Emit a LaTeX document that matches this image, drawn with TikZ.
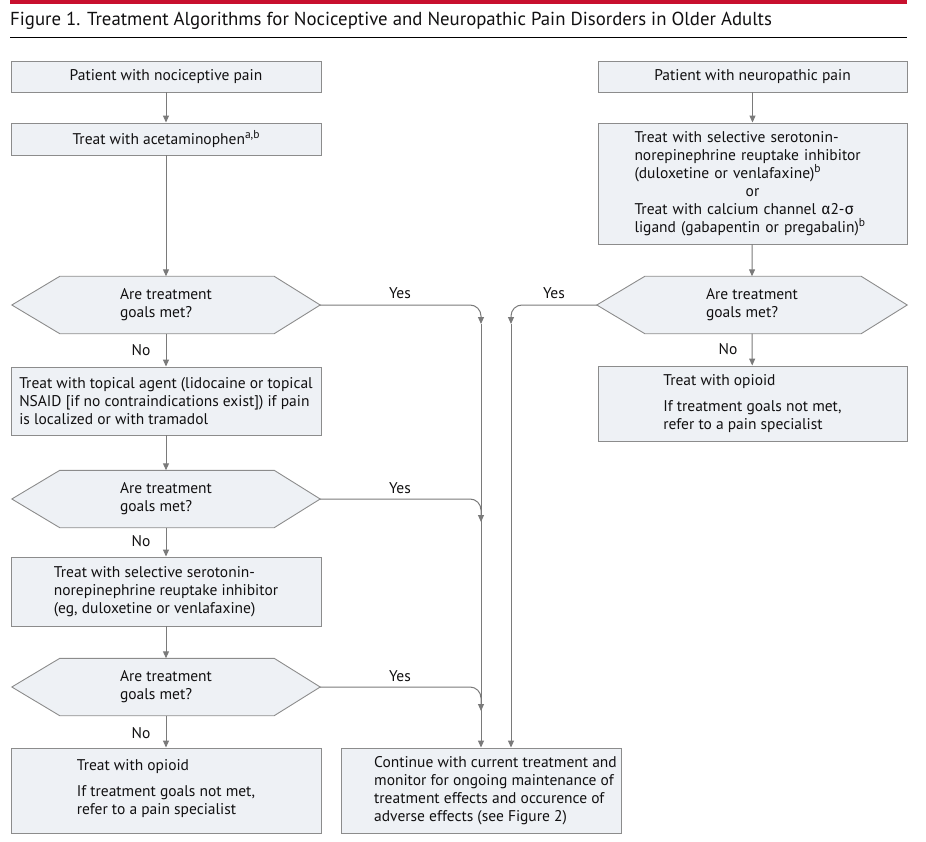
\documentclass[tikz,border=0pt]{standalone}
\usepackage{fontspec}
\setmainfont{PT Sans}
\newfontfamily\grk{Fira Sans}
\usetikzlibrary{arrows.meta,backgrounds}
\definecolor{boxfill}{HTML}{EEF1F5}
\definecolor{boxline}{HTML}{8C8C8C}
\definecolor{arrowc}{HTML}{7A7A7A}
\definecolor{jamared}{HTML}{C8102E}
\definecolor{txt}{HTML}{111011}
\newcommand\supr[1]{\raisebox{5.5pt}{\fontsize{11.5}{11.5}\selectfont #1}}
\begin{document}
\begin{tikzpicture}[x=1pt,y=-1pt,
  every node/.style={text=txt, font=\fontsize{15.5}{18}\selectfont},
  box/.style={draw=boxline, fill=boxfill, line width=0.9pt, inner sep=0pt, align=left},
  hexnode/.style={inner sep=0pt, align=left, minimum width=308pt, minimum height=57pt},
  hexa/.style={draw=boxline, fill=boxfill, line width=0.9pt},
  conn/.style={draw=arrowc, line width=1pt, -{Triangle[length=7pt,width=6pt]}},
  lbl/.style={inner sep=0pt}
]
\useasboundingbox (0,0) rectangle (926,842);

% header
\fill[jamared] (10,0) rectangle (907,4);
\node[lbl, anchor=base west, font=\fontsize{18.8}{22}\selectfont] (title) at (10,26)
  {Figure 1. Treatment Algorithms for Nociceptive and Neuropathic Pain Disorders in Older Adults};
\draw[black, line width=1pt] (10,38) -- (907,38);

% left column
\node[box, minimum width=310pt, minimum height=31pt] (b1) at (166,76.5) {Patient with nociceptive pain};
\node[box, minimum width=310pt, minimum height=32pt] (b2) at (166,139) {Treat with acetaminophen\supr{a,b}};
\node[hexnode] (d1) at (166,305) {Are treatment\\goals met?};
\node[box, minimum width=310pt, minimum height=68pt] (b3) at (166,401)
  {Treat with topical agent (lidocaine or topical\\NSAID [if no contraindications exist]) if pain\\is localized or with tramadol};
\node[hexnode] (d2) at (166,499) {Are treatment\\goals met?};
\node[box, minimum width=310pt, minimum height=69pt] (b4) at (166,591.5)
  {Treat with selective serotonin-\\norepinephrine reuptake inhibitor\\(eg, duloxetine or venlafaxine)};
\node[hexnode] (d3) at (166,687) {Are treatment\\goals met?};
\node[box, minimum width=310pt, minimum height=85pt] (b5) at (166,790.5)
  {Treat with opioid\\[8pt]If treatment goals not met,\\refer to a pain specialist\\[-12pt]};

% center box
\node[box, minimum width=280pt, minimum height=85pt] (b6) at (481,790.5) {};
\node[lbl, anchor=west, align=left] (b6t) at (374,791)
  {Continue with current treatment and\\monitor for ongoing maintenance of\\treatment effects and occurence of\\adverse effects (see Figure 2)};

% right column
\node[box, minimum width=309pt, minimum height=31pt] (r1) at (752.5,76.5) {Patient with neuropathic pain};
\node[box, minimum width=309pt, minimum height=121pt, text width=236pt, inner xsep=36.5pt] (r2) at (752.5,183.5)
  {Treat with selective serotonin-\\norepinephrine reuptake inhibitor\\(duloxetine or venlafaxine)\supr{b}\\\makebox[\linewidth]{or}\\Treat with calcium channel {\grk α}2-{\grk σ}\\ligand (gabapentin or pregabalin)\supr{b}};
\node[hexnode, minimum width=310pt] (dr) at (752,305) {Are treatment\\goals met?};
\node[box, minimum width=309pt, minimum height=75pt] (r3) at (752.5,403.5)
  {Treat with opioid\\[8pt]If treatment goals not met,\\refer to a pain specialist};

% hexagons
\begin{scope}[on background layer]
  \foreach \d in {d1,d2,d3,dr}{
    \filldraw[hexa] (\d.west) -- ([xshift=48pt]\d.north west) -- ([xshift=-46pt]\d.north east)
      -- (\d.east) -- ([xshift=-46pt]\d.south east) -- ([xshift=48pt]\d.south west) -- cycle;
  }
\end{scope}

% trunk coordinates
\coordinate (tl1) at (481,324);
\coordinate (tl2) at (481,522);
\coordinate (tl3) at (481,711);
\coordinate (tr1) at (511,324);

% connectors left
\draw[conn] (b1) -- (b2);
\draw[conn] (b2) -- (d1.north);
\draw[conn] (d1.south) -- (b3);
\draw[conn] (b3) -- (d2.north);
\draw[conn] (d2.south) -- (b4);
\draw[conn] (b4) -- (d3.north);
\draw[conn] (d3.south) -- (b5);
% yes branches
\draw[conn, rounded corners=11pt] (d1.east) -| (tl1);
\draw[conn, rounded corners=11pt] (d2.east) -| (tl2);
\draw[conn, rounded corners=11pt] (d3.east) -| (tl3);
\draw[conn] (tl1) -- (tl1 |- b6.north);
% right
\draw[conn] (r1) -- (r2);
\draw[conn] (r2) -- (dr.north);
\draw[conn] (dr.south) -- (r3);
\draw[conn, rounded corners=11pt] (dr.west) -| (tr1);
\draw[conn] (tr1) -- (tr1 |- b6.north);

% labels
\node[lbl] (y1) at (400,293) {Yes};
\node[lbl] (y2) at (400,488) {Yes};
\node[lbl] (y3) at (400,676) {Yes};
\node[lbl] (yr) at (554,293) {Yes};
\node[lbl] (n1) at (141,350) {No};
\node[lbl] (n2) at (141,541) {No};
\node[lbl] (n3) at (141,733) {No};
\node[lbl] (nr) at (728,349) {No};
\end{tikzpicture}
\end{document}
